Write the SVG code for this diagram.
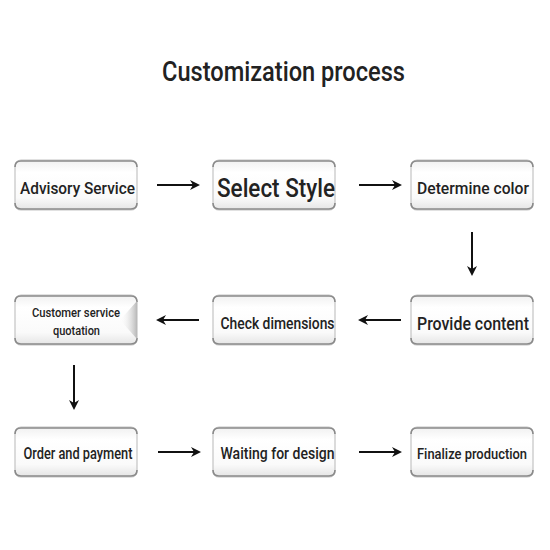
<svg xmlns="http://www.w3.org/2000/svg" width="550" height="550" viewBox="0 0 550 550">
<style>
.box{fill:url(#g);stroke:#c4c4c4;stroke-width:1.2}
.edge{fill:none;stroke:#8a8a8a;stroke-width:1.6}
.t{font-family:Roboto,"Liberation Sans",sans-serif;font-weight:500;fill:#222;text-anchor:middle}
.c{stroke:#111;stroke-width:2;fill:none;marker-end:url(#ah)}
</style>
<defs>
<linearGradient id="g" x1="0" y1="0" x2="0" y2="1">
<stop offset="0" stop-color="#f0f0f0"/>
<stop offset="0.25" stop-color="#ffffff"/>
<stop offset="0.75" stop-color="#fafafa"/>
<stop offset="1" stop-color="#e4e4e4"/>
</linearGradient>
<linearGradient id="tri" x1="0" y1="0" x2="1" y2="0">
<stop offset="0" stop-color="#ffffff" stop-opacity="0"/>
<stop offset="1" stop-color="#b8b8b8"/>
</linearGradient>
<marker id="ah" markerWidth="10" markerHeight="10" refX="8" refY="5" orient="auto" markerUnits="userSpaceOnUse">
<path d="M0,0 L10,5 L0,10 L3,5 Z" fill="#111"/>
</marker>
<path id="edges" d="M0,7 Q0,1 6,1 L116,1 Q122,1 122,7 M0,43 Q0,49 6,49 L116,49 Q122,49 122,43"/>
</defs>
<rect width="550" height="550" fill="#fff"/>
<text class="t" x="283.5" y="81" font-size="28" textLength="243" lengthAdjust="spacingAndGlyphs">Customization process</text>

<g id="n1"><rect class="box" x="15" y="160" width="122" height="50" rx="6"/><use href="#edges" class="edge" x="15" y="160"/><text class="t" x="77.5" y="194" font-size="17" textLength="115" lengthAdjust="spacingAndGlyphs">Advisory Service</text></g>
<g id="n2"><rect class="box" x="213" y="160" width="122" height="50" rx="6"/><use href="#edges" class="edge" x="213" y="160"/><text class="t" x="276" y="197" font-size="25" textLength="118" lengthAdjust="spacingAndGlyphs">Select Style</text></g>
<g id="n3"><rect class="box" x="411" y="160" width="122" height="50" rx="6"/><use href="#edges" class="edge" x="411" y="160"/><text class="t" x="473" y="194" font-size="17" textLength="112" lengthAdjust="spacingAndGlyphs">Determine color</text></g>

<g id="n6"><rect class="box" x="15" y="295" width="122" height="50" rx="6"/><use href="#edges" class="edge" x="15" y="295"/><path d="M137,301 L120,320 L137,339 Z" fill="url(#tri)"/><text class="t" x="76" y="317" font-size="13" textLength="88" lengthAdjust="spacingAndGlyphs">Customer service</text><text class="t" x="76.5" y="335" font-size="13" textLength="47" lengthAdjust="spacingAndGlyphs">quotation</text></g>
<g id="n5"><rect class="box" x="213" y="295" width="122" height="50" rx="6"/><use href="#edges" class="edge" x="213" y="295"/><text class="t" x="277.5" y="329" font-size="17" textLength="114" lengthAdjust="spacingAndGlyphs">Check dimensions</text></g>
<g id="n4"><rect class="box" x="411" y="295" width="122" height="50" rx="6"/><use href="#edges" class="edge" x="411" y="295"/><text class="t" x="473" y="330" font-size="18" textLength="112" lengthAdjust="spacingAndGlyphs">Provide content</text></g>

<g id="n7"><rect class="box" x="15" y="427" width="122" height="50" rx="6"/><use href="#edges" class="edge" x="15" y="427"/><text class="t" x="78" y="459" font-size="16" textLength="109" lengthAdjust="spacingAndGlyphs">Order and payment</text></g>
<g id="n8"><rect class="box" x="213" y="427" width="122" height="50" rx="6"/><use href="#edges" class="edge" x="213" y="427"/><text class="t" x="277.5" y="459" font-size="17" textLength="114" lengthAdjust="spacingAndGlyphs">Waiting for design</text></g>
<g id="n9"><rect class="box" x="411" y="427" width="122" height="50" rx="6"/><use href="#edges" class="edge" x="411" y="427"/><text class="t" x="472" y="459" font-size="15" textLength="110" lengthAdjust="spacingAndGlyphs">Finalize production</text></g>

<g id="connectors">
<line class="c" x1="157" y1="185" x2="198" y2="185"/>
<line class="c" x1="359" y1="185" x2="400" y2="185"/>
<line class="c" x1="472" y1="232" x2="472" y2="274"/>
<line class="c" x1="401" y1="320" x2="360" y2="320"/>
<line class="c" x1="199" y1="320" x2="158" y2="320"/>
<line class="c" x1="74" y1="365" x2="74" y2="408"/>
<line class="c" x1="158" y1="452" x2="199" y2="452"/>
<line class="c" x1="359" y1="452" x2="400" y2="452"/>
</g>
</svg>
